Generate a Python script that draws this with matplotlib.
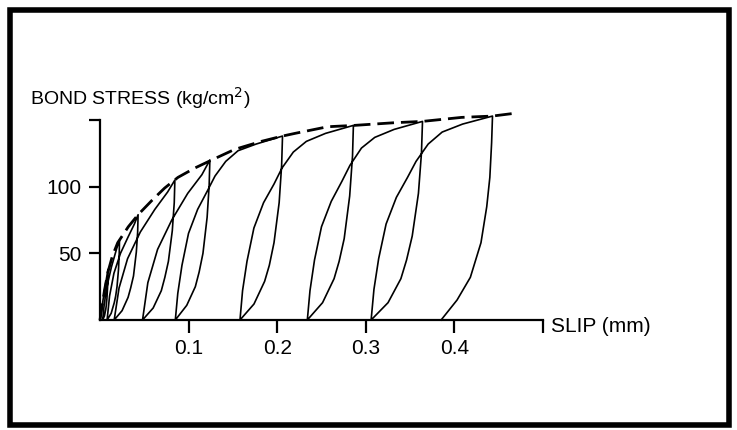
"""Cyclic bond stress vs slip curves with the monotonic envelope (scanned figure)."""

import matplotlib

matplotlib.use("Agg")
import matplotlib.pyplot as plt
from matplotlib.patches import Rectangle

# monotonic envelope (dashed)
envelope_slip = [0, 0.002, 0.005, 0.009, 0.014, 0.02, 0.032, 0.043, 0.059, 0.073, 0.088,
                 0.107, 0.126, 0.152, 0.182, 0.206, 0.22, 0.257, 0.287, 0.332, 0.364,
                 0.408, 0.443, 0.467]
envelope_stress = [0, 9, 22, 36, 48, 58, 70, 79, 90, 99, 107,
                   114, 120, 128, 134, 138, 140, 145, 146, 148, 149,
                   152, 153, 155]

# first loading branch up to the first peak
load_slip = [0, 0.002, 0.005, 0.009]
load_stress = [0, 9, 22, 38]

# unloading branches: peak -> residual slip
unload_slip = [
    [0.009, 0.0089, 0.0085, 0.0078, 0.0071, 0.0065, 0.005, 0.003],
    [0.022, 0.0217, 0.0209, 0.0192, 0.0177, 0.0161, 0.0126, 0.008],
    [0.043, 0.0425, 0.041, 0.0378, 0.0346, 0.0317, 0.0249, 0.016],
    [0.0845, 0.0838, 0.0816, 0.0772, 0.0732, 0.0692, 0.06, 0.048],
    [0.124, 0.1232, 0.1209, 0.1162, 0.1119, 0.1076, 0.0979, 0.085],
    [0.206, 0.205, 0.2022, 0.1964, 0.1911, 0.1858, 0.1738, 0.158],
    [0.286, 0.285, 0.2818, 0.2756, 0.2699, 0.2642, 0.2512, 0.234],
    [0.364, 0.3628, 0.3594, 0.3524, 0.346, 0.3396, 0.3251, 0.306],
    [0.443, 0.442, 0.440, 0.4365, 0.430, 0.418, 0.403, 0.385],
]
unload_stress = [
    [38, 32, 24, 16, 11, 8, 3, 0],
    [60, 50, 38, 25, 18, 13, 5, 0],
    [79, 66, 51, 33, 24, 17, 7, 0],
    [105, 88, 67, 44, 32, 22, 9, 0],
    [120, 101, 77, 50, 36, 25, 11, 0],
    [138, 116, 88, 58, 41, 29, 12, 0],
    [146, 123, 93, 61, 44, 31, 13, 0],
    [149, 125, 95, 63, 45, 31, 13, 0],
    [153, 133, 107, 85, 58, 32, 15, 0],
]

# reloading branches: residual slip -> next peak
reload_slip = [
    [0.003, 0.0045, 0.0065, 0.0095, 0.013, 0.016, 0.019, 0.022],
    [0.008, 0.0108, 0.0157, 0.0231, 0.0315, 0.0388, 0.043],
    [0.016, 0.0215, 0.0311, 0.0455, 0.0619, 0.0763, 0.0845],
    [0.048, 0.054, 0.065, 0.081, 0.099, 0.115, 0.124],
    [0.085, 0.0878, 0.0925, 0.0999, 0.1102, 0.1213, 0.1298, 0.1419, 0.1558, 0.1762, 0.206],
    [0.158, 0.1609, 0.1659, 0.1737, 0.1846, 0.1964, 0.2054, 0.2182, 0.2329, 0.2545, 0.286],
    [0.234, 0.237, 0.2421, 0.25, 0.261, 0.273, 0.2821, 0.2951, 0.3101, 0.332, 0.364],
    [0.306, 0.3092, 0.3145, 0.3229, 0.3345, 0.3471, 0.3567, 0.3704, 0.3862, 0.4093, 0.443],
]
reload_stress = [
    [0, 10, 20, 30, 40, 47, 54, 60],
    [0, 18, 35, 50, 62, 72, 79],
    [0, 24, 46, 66, 83, 96, 105],
    [0, 28, 53, 75, 95, 109, 120],
    [0, 20, 41, 65, 83, 97, 108, 119, 127, 132, 138],
    [0, 22, 44, 69, 88, 102, 114, 126, 134, 140, 146],
    [0, 22, 45, 70, 89, 104, 116, 129, 137, 143, 149],
    [0, 23, 46, 72, 92, 107, 119, 132, 141, 147, 153],
]

x_ticks = [0.1, 0.2, 0.3, 0.4, 0.5]
x_tick_labels = ["0.1", "0.2", "0.3", "0.4", ""]
y_ticks = [50, 100, 150]
y_tick_labels = ["50", "100", ""]

plt.rcParams["font.family"] = ["Liberation Sans", "DejaVu Sans"]

fig = plt.figure(figsize=(7.37, 4.30), dpi=100)
fig.patch.set_facecolor("white")
ax = fig.add_axes([100 / 737, 110 / 430, 443 / 737, 210.6 / 430])

# stitch the cyclic path together in loading order
path_x = list(load_slip)
path_y = list(load_stress)
for i in range(len(unload_slip)):
    path_x += unload_slip[i][1:]
    path_y += unload_stress[i][1:]
    if i < len(reload_slip):
        path_x += reload_slip[i][1:]
        path_y += reload_stress[i][1:]

ax.plot(path_x, path_y, color="black", linewidth=1.2, clip_on=False)
ax.plot(envelope_slip, envelope_stress, color="black", linewidth=2.0,
        dashes=(6, 2.5), clip_on=False)

ax.set_xlim(0, 0.5)
ax.set_ylim(0, 158)
for side in ("top", "right"):
    ax.spines[side].set_visible(False)
ax.spines["left"].set_bounds(0, 150)
ax.spines["left"].set_linewidth(1.6)
ax.spines["bottom"].set_linewidth(1.6)

ax.set_xticks(x_ticks)
ax.set_xticklabels(x_tick_labels)
ax.set_yticks(y_ticks)
ax.set_yticklabels(y_tick_labels)
ax.tick_params(axis="both", direction="out", width=1.6, labelsize=15, colors="black")
ax.tick_params(axis="x", length=9, pad=5)
ax.tick_params(axis="y", length=8, pad=5)

fig.text(30 / 737, 1 - 98 / 430, "BOND STRESS (kg/cm$^2$)", fontsize=14,
         ha="left", va="center")
fig.text(551 / 737, 1 - 326 / 430, "SLIP (mm)", fontsize=15, ha="left", va="center")

# thick black frame around the whole figure
fig.patches.append(Rectangle((10 / 737, 5 / 430), 719 / 737, 415 / 430,
                             transform=fig.transFigure, fill=False,
                             edgecolor="black", linewidth=4))

fig.savefig("out.png", dpi=100, facecolor="white")
